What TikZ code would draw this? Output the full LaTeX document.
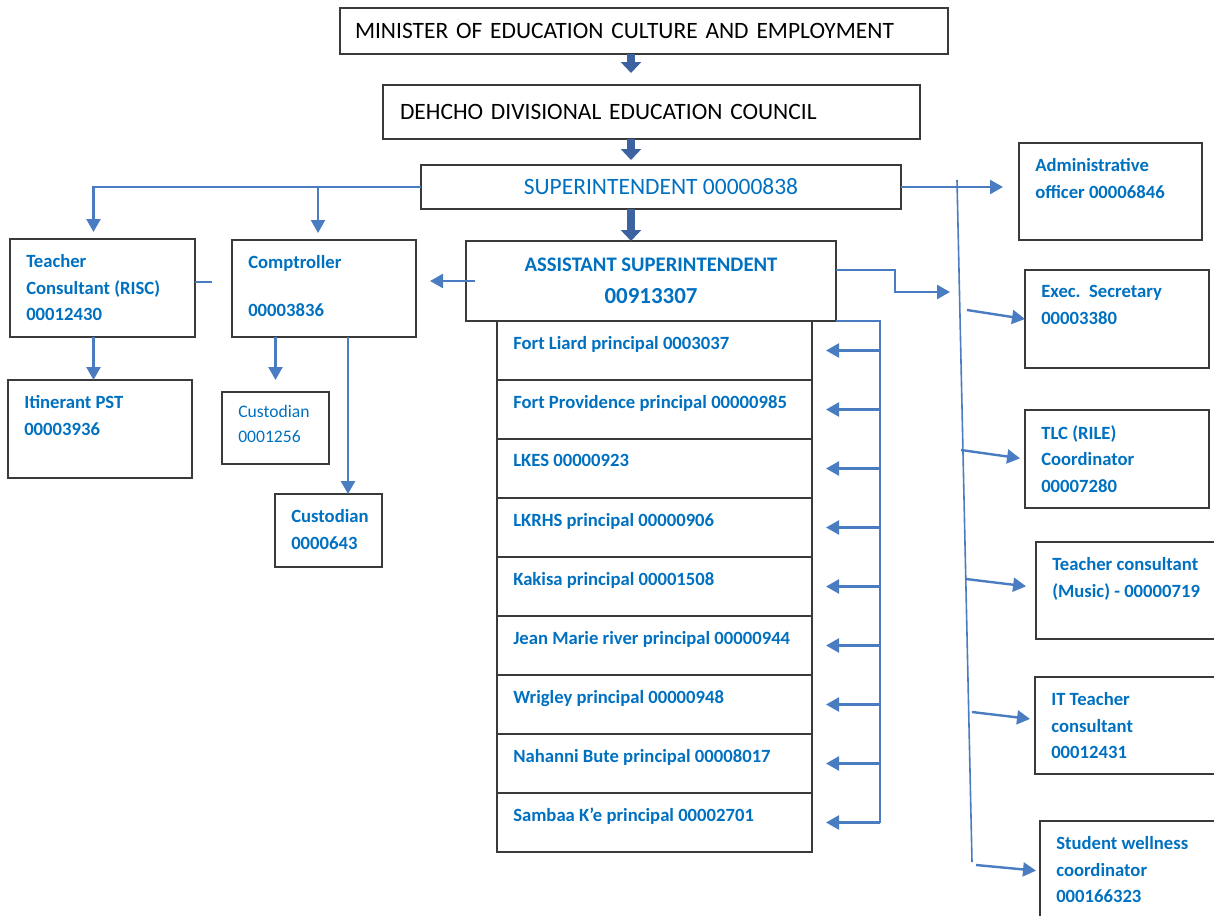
\documentclass[tikz,border=0pt]{standalone}
\usepackage{fontspec}
\setmainfont{Carlito}
\usetikzlibrary{positioning,arrows.meta}

\definecolor{deptblue}{HTML}{0070C0}
\definecolor{linkblue}{HTML}{4A7CC2}
\definecolor{chainblue}{HTML}{3C63A0}
\definecolor{boxgray}{HTML}{3A3A3A}

\def\px{*0.75pt}

\tikzset{
  post/.style={draw=boxgray, line width=0.8pt, anchor=north west, inner sep=0pt, outer sep=0pt},
  school/.style={post, minimum width=315\px, minimum height=59\px},
  post text/.style={anchor=north west, align=left, inner sep=0pt, text=deptblue,
    font=\bfseries\fontsize{14}{20}\selectfont, xshift=16\px, yshift=-15\px},
  head title/.style={align=left, inner ysep=0pt, font=\fontsize{17.6}{22}\selectfont},
  chainarrow/.style={draw=chainblue, line width=8\px, -{Triangle[length=11\px, width=20\px]}},
  linkarrow/.style={draw=linkblue, line width=2.4\px, -{Triangle[length=13\px, width=14\px]}},
  plain link/.style={draw=linkblue, line width=2.4\px},
}

\begin{document}
\begin{tikzpicture}[x=0.75pt, y=-0.75pt]
\clip (0,0) rectangle (1214,915);

% top of the line
\node[post, head title, text width=578\px, inner xsep=15\px, minimum height=46\px] (minister) at (340,8) {MINISTER OF EDUCATION CULTURE AND EMPLOYMENT};
\node[post, head title, text width=503\px, inner xsep=17\px, minimum height=54\px] (council) at (383,85) {DEHCHO DIVISIONAL EDUCATION COUNCIL};
\node[post, minimum width=480\px, minimum height=44\px, text=deptblue, font=\fontsize{17.6}{22}\selectfont] (super) at (421,165) {SUPERINTENDENT 00000838};
\node[post, minimum width=370\px, minimum height=80\px, align=center, text=deptblue, font=\bfseries\fontsize{15.5}{24}\selectfont] (asst) at (466,241) {ASSISTANT SUPERINTENDENT\\{\fontsize{17.2}{24}\selectfont 00913307}};

% left side
\node[post, minimum width=185\px, minimum height=98\px, label={[post text]north west:Teacher\\Consultant (RISC)\\00012430}] (risc) at (10,239) {};
\node[post, minimum width=184\px, minimum height=97\px, label={[post text]north west:Comptroller\\[16pt]00003836}] (comp) at (232,240) {};
\node[post, minimum width=184\px, minimum height=98\px, label={[post text]north west:Itinerant PST\\00003936}] (itin) at (8,380) {};
\node[post, minimum width=107\px, minimum height=72\px, label={[post text, font=\fontsize{13.2}{19}\selectfont, yshift=2\px]north west:Custodian\\0001256}] (cust1) at (222,392) {};
\node[post, minimum width=107\px, minimum height=73\px, label={[post text]north west:Custodian\\0000643}] (cust2) at (275,494) {};

% schools
\node[school, label={[post text]north west:Fort Liard principal 0003037}] (liard) at (497,321) {};
\node[school, below=0pt of liard, label={[post text]north west:Fort Providence principal 00000985}] (providence) {};
\node[school, below=0pt of providence, label={[post text]north west:LKES 00000923}] (lkes) {};
\node[school, below=0pt of lkes, label={[post text]north west:LKRHS principal 00000906}] (lkrhs) {};
\node[school, below=0pt of lkrhs, label={[post text]north west:Kakisa principal 00001508}] (kakisa) {};
\node[school, below=0pt of kakisa, label={[post text]north west:Jean Marie river principal 00000944}] (jeanmarie) {};
\node[school, below=0pt of jeanmarie, label={[post text]north west:Wrigley principal 00000948}] (wrigley) {};
\node[school, below=0pt of wrigley, label={[post text]north west:Nahanni Bute principal 00008017}] (nahanni) {};
\node[school, below=0pt of nahanni, label={[post text]north west:Sambaa K’e principal 00002701}] (sambaa) {};

% right side
\node[post, minimum width=183\px, minimum height=97\px, label={[post text]north west:Administrative\\officer 00006846}] (admin) at (1019,143) {};
\node[post, minimum width=184\px, minimum height=98\px, label={[post text]north west:Exec.\ ~Secretary\\00003380}] (exec) at (1025,270) {};
\node[post, minimum width=184\px, minimum height=98\px, label={[post text]north west:TLC (RILE)\\Coordinator\\00007280}] (tlc) at (1025,410) {};
\node[post, minimum width=190\px, minimum height=97\px, label={[post text]north west:Teacher consultant\\(Music) - 00000719}] (music) at (1036,542) {};
\node[post, minimum width=190\px, minimum height=97\px, label={[post text]north west:IT Teacher\\consultant\\00012431}] (itc) at (1035,677) {};
\node[post, minimum width=190\px, minimum height=100\px, label={[post text]north west:Student wellness\\coordinator\\000166323}] (wellness) at (1040,821) {};

% main line
\coordinate (spine) at (631,0);
\draw[chainarrow, shorten >=12\px] (minister.south -| spine) -- (council.north -| spine);
\draw[chainarrow, shorten >=5\px] (council.south -| spine) -- (super.north -| spine);
\draw[chainarrow] (super.south -| spine) -- (asst.north -| spine);

% left connectors
\coordinate (riscdrop) at ([xshift=-9\px]risc.north);
\coordinate (compdrop) at ([xshift=-6\px]comp.north);
\draw[linkarrow, shorten >=7\px] (super.west) -| (riscdrop);
\draw[linkarrow, shorten >=7\px] (super.west -| compdrop) -- (compdrop);
\coordinate (riscstub) at ([xshift=17\px, yshift=6\px]risc.east);
\draw[plain link] ([yshift=6\px]risc.east) -- (riscstub);
\draw[linkarrow, shorten >=14\px] ([xshift=9\px]asst.west) -- (asst.west -| comp.east);
\coordinate (itindrop) at ([xshift=-9\px]risc.south);
\draw[linkarrow] (itindrop) -- (itindrop |- itin.north);
\draw[linkarrow, shorten >=12\px] (cust1.north |- comp.south) -- (cust1.north);
\coordinate (custdrop) at ([xshift=24\px]comp.south);
\draw[linkarrow] (custdrop) -- (custdrop |- cust2.north);

% schools bracket
\coordinate (bracket) at ([xshift=44\px]asst.south east);
\draw[plain link] (asst.south east) -- (bracket) -- (bracket |- sambaa.east);
\draw[linkarrow, shorten >=14\px] (bracket |- liard.east) -- (liard.east);
\draw[linkarrow, shorten >=14\px] (bracket |- providence.east) -- (providence.east);
\draw[linkarrow, shorten >=14\px] (bracket |- lkes.east) -- (lkes.east);
\draw[linkarrow, shorten >=14\px] (bracket |- lkrhs.east) -- (lkrhs.east);
\draw[linkarrow, shorten >=14\px] (bracket |- kakisa.east) -- (kakisa.east);
\draw[linkarrow, shorten >=14\px] (bracket |- jeanmarie.east) -- (jeanmarie.east);
\draw[linkarrow, shorten >=14\px] (bracket |- wrigley.east) -- (wrigley.east);
\draw[linkarrow, shorten >=14\px] (bracket |- nahanni.east) -- (nahanni.east);
\draw[linkarrow, shorten >=14\px] (bracket |- sambaa.east) -- (sambaa.east);

% right connectors
\draw[linkarrow, shorten >=16\px] (super.east) -- (super.east -| admin.west);
\coordinate (railtop) at (957,180);
\coordinate (railbot) at (972,862);
\draw[plain link, line width=1.6\px] (railtop) -- (railbot);
\coordinate (asstend) at (950,292);
\draw[linkarrow] ([yshift=11\px]asst.east) -- ++(59,0) |- (asstend);
\coordinate (tapexec) at (967,310);
\coordinate (taptlc) at (961,450);
\coordinate (tapmusic) at (966,579);
\coordinate (tapitc) at (972,712);
\coordinate (tapwell) at (976,865);
\draw[linkarrow] (tapexec) -- (exec.west);
\draw[linkarrow, shorten >=5\px] (taptlc) -- (tlc.west);
\draw[linkarrow, shorten >=10\px] (tapmusic) -- ([yshift=3\px]music.west);
\draw[linkarrow, shorten >=5\px] (tapitc) -- ([yshift=6\px]itc.west);
\draw[linkarrow, shorten >=4\px] (tapwell) -- (wellness.west);

\end{tikzpicture}
\end{document}
